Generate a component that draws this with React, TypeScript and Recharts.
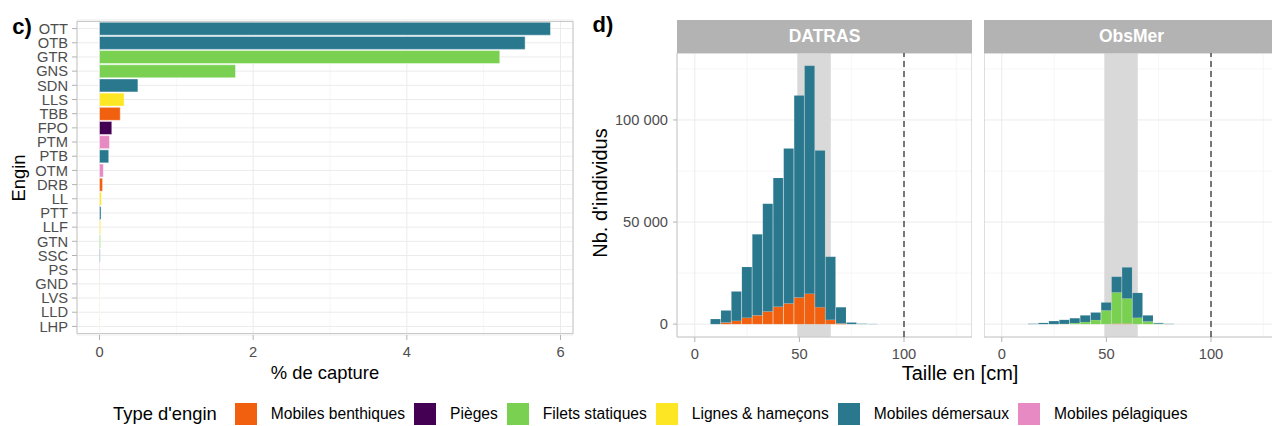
import React from 'react';
import {
  BarChart,
  Bar,
  XAxis,
  YAxis,
  CartesianGrid,
  ReferenceLine,
  ReferenceArea,
  Cell,
} from 'recharts';

// c) share of catch by gear
const engins = ['OTT', 'OTB', 'GTR', 'GNS', 'SDN', 'LLS', 'TBB', 'FPO', 'PTM', 'PTB', 'OTM', 'DRB', 'LL', 'PTT', 'LLF', 'GTN', 'SSC', 'PS', 'GND', 'LVS', 'LLD', 'LHP'];
const captures = [5.87, 5.54, 5.21, 1.77, 0.5, 0.32, 0.27, 0.16, 0.13, 0.12, 0.05, 0.04, 0.025, 0.02, 0.015, 0.012, 0.008, 0.005, 0.004, 0.003, 0.002, 0.002];
const enginTypes = ['dem', 'dem', 'stat', 'stat', 'dem', 'lig', 'ben', 'pie', 'pel', 'dem', 'pel', 'ben', 'lig', 'dem', 'lig', 'stat', 'dem', 'pel', 'stat', 'lig', 'lig', 'lig'];
const captureTicks = [0, 2, 4, 6];
const captureMinor = [1, 3, 5];

// d) length distributions (5 cm bins)
const tailles = [10, 15, 20, 25, 30, 35, 40, 45, 50, 55, 60, 65, 70, 75, 80, 85];
const datrasBenthiques = [0, 800, 1600, 3100, 4300, 6200, 8500, 10100, 13000, 14900, 8300, 2100, 300, 0, 0, 0];
const datrasDemersaux = [2500, 5900, 14400, 24900, 39700, 52800, 63100, 75900, 99000, 111600, 76700, 30900, 8000, 800, 200, 100];
const obsmerBenthiques = [0, 0, 0, 0, 0, 0, 0, 0, 0, 250, 250, 0, 0, 0, 0, 0];
const obsmerStatiques = [0, 0, 0, 0, 100, 500, 1000, 2000, 6700, 15300, 12300, 3100, 1300, 200, 0, 0];
const obsmerDemersaux = [0, 200, 600, 1500, 2000, 2400, 3300, 3700, 3900, 7650, 15250, 12200, 3000, 400, 150, 0];
const tailleTicks = [0, 50, 100];
const tailleMinor = [25, 75, 125];
const effectifTicks = [0, 50000, 100000];
const effectifMinor = [25000, 75000, 125000];

const typeKeys = ['ben', 'pie', 'stat', 'lig', 'dem', 'pel'];
const typeLabels = ['Mobiles benthiques', 'Pièges', 'Filets statiques', 'Lignes & hameçons', 'Mobiles démersaux', 'Mobiles pélagiques'];

const COLORS: Record<string, string> = {
  ben: '#F1600F',
  pie: '#440154',
  stat: '#7AD151',
  lig: '#FDE725',
  dem: '#2A788E',
  pel: '#E78AC3',
};

const FONT = '"Liberation Sans", Arial, Helvetica, sans-serif';
const GRID = '#EBEBEB';
const MINOR = '#F4F4F4';
const BORDER = '#C8C8C8';
const TICK = { fontSize: 14.7, fill: '#4D4D4D', fontFamily: FONT };

const captureData = engins.map((e, i) => ({ engin: e, capture: captures[i], type: enginTypes[i] }));

const datrasData = tailles.map((t, i) => ({
  taille: t,
  ben: datrasBenthiques[i],
  stat: 0,
  dem: datrasDemersaux[i],
}));
const obsmerData = tailles.map((t, i) => ({
  taille: t,
  ben: obsmerBenthiques[i],
  stat: obsmerStatiques[i],
  dem: obsmerDemersaux[i],
}));

const fmtMilliers = (v: number) => String(v).replace(/\B(?=(\d{3})+(?!\d))/g, ' ');

const captureDomain: [number, number] = [-0.293, 6.163];
const tailleDomain: [number, number] = [-8.5, 132.5];
const effectifDomain: [number, number] = [-6300, 132800];

const CaptureChart = () => (
  <BarChart
    width={575}
    height={380}
    data={captureData}
    layout="vertical"
    margin={{ top: 20, right: 2, bottom: 15, left: 0 }}
    barCategoryGap="5%"
  >
    <CartesianGrid stroke={MINOR} strokeWidth={0.8} horizontal={false} verticalValues={captureMinor} />
    <CartesianGrid stroke={GRID} strokeWidth={1} />
    <XAxis
      type="number"
      dataKey="capture"
      domain={captureDomain}
      ticks={captureTicks}
      allowDataOverflow
      axisLine={false}
      tickLine={{ stroke: '#B3B3B3' }}
      tickSize={5}
      tickMargin={7}
      tick={TICK}
    />
    <YAxis
      type="category"
      dataKey="engin"
      width={77}
      interval={0}
      padding={{ top: 1.5, bottom: 1.5 }}
      axisLine={false}
      tickLine={{ stroke: '#B3B3B3' }}
      tickSize={5}
      tickMargin={4}
      tick={TICK}
    />
    <Bar dataKey="capture" isAnimationActive={false} stroke="#ffffff" strokeOpacity={0.55} strokeWidth={0.8}>
      {captureData.map((d) => (
        <Cell key={d.engin} fill={COLORS[d.type]} />
      ))}
    </Bar>
    <ReferenceArea x1={captureDomain[0]} x2={captureDomain[1]} fill="none" stroke={BORDER} strokeWidth={1} />
  </BarChart>
);

const HistPanel = ({ data, showY, width }: { data: any[]; showY: boolean; width: number }) => (
  <BarChart
    width={width}
    height={380}
    data={data}
    margin={{ top: 53, right: 0, bottom: 13, left: 0 }}
    barCategoryGap={0}
    barGap={0}
  >
    <CartesianGrid stroke={MINOR} strokeWidth={0.8} verticalValues={tailleMinor} horizontalValues={effectifMinor} />
    <CartesianGrid stroke={GRID} strokeWidth={1} />
    <ReferenceArea x1={49} x2={65} fill="#D9D9D9" fillOpacity={1} stroke="none" />
    <XAxis
      type="number"
      dataKey="taille"
      domain={tailleDomain}
      ticks={tailleTicks}
      allowDataOverflow
      axisLine={false}
      tickLine={{ stroke: '#B3B3B3' }}
      tickSize={5}
      tickMargin={7}
      tick={TICK}
    />
    <YAxis
      type="number"
      domain={effectifDomain}
      ticks={effectifTicks}
      allowDataOverflow
      hide={!showY}
      width={87}
      axisLine={false}
      tickLine={{ stroke: '#B3B3B3' }}
      tickSize={4}
      tickMargin={5}
      tick={TICK}
      tickFormatter={fmtMilliers}
    />
    <Bar dataKey="ben" stackId="s" fill={COLORS.ben} stroke="#ffffff" strokeOpacity={0.15} strokeWidth={0.5} isAnimationActive={false} />
    <Bar dataKey="stat" stackId="s" fill={COLORS.stat} stroke="#ffffff" strokeOpacity={0.15} strokeWidth={0.5} isAnimationActive={false} />
    <Bar dataKey="dem" stackId="s" fill={COLORS.dem} stroke="#ffffff" strokeOpacity={0.15} strokeWidth={0.5} isAnimationActive={false} />
    <ReferenceLine x={100} stroke="#333333" strokeWidth={1.3} strokeDasharray="6 4" />
    <ReferenceArea x1={tailleDomain[0]} x2={tailleDomain[1]} fill="none" stroke={BORDER} strokeWidth={1} />
  </BarChart>
);

const Strip = ({ label, left, width }: { label: string; left: number; width: number }) => (
  <div
    style={{
      position: 'absolute',
      left,
      top: 20,
      width,
      height: 33,
      background: '#B3B3B3',
      color: '#ffffff',
      fontWeight: 'bold',
      fontSize: 17.5,
      display: 'flex',
      alignItems: 'center',
      justifyContent: 'center',
    }}
  >
    {label}
  </div>
);

const Text = ({ x, y, children, size = 18.4, bold = false, rotate = false }: any) => (
  <div
    style={{
      position: 'absolute',
      left: x,
      top: y,
      transform: `translate(-50%, -50%)${rotate ? ' rotate(-90deg)' : ''}`,
      fontSize: size,
      fontWeight: bold ? 'bold' : 'normal',
      whiteSpace: 'nowrap',
      color: '#000',
    }}
  >
    {children}
  </div>
);

const Legend = () => (
  <div
    style={{
      position: 'absolute',
      left: 113,
      top: 402,
      height: 24,
      display: 'flex',
      alignItems: 'center',
    }}
  >
    <span style={{ fontSize: 18.4, marginRight: 18 }}>Type d'engin</span>
    {typeKeys.map((k, i) => (
      <React.Fragment key={k}>
        <span style={{ display: 'inline-block', width: 22, height: 22, background: COLORS[k], marginRight: 14 }} />
        <span style={{ fontSize: 15.6, marginRight: 9 }}>{typeLabels[i]}</span>
      </React.Fragment>
    ))}
  </div>
);

export default function App() {
  return (
    <div
      style={{
        position: 'absolute',
        left: 0,
        top: 0,
        width: 1272,
        height: 426,
        overflow: 'hidden',
        background: '#ffffff',
        fontFamily: FONT,
      }}
    >
      <div style={{ position: 'absolute', left: 0, top: 0 }}>
        <CaptureChart />
      </div>
      <div style={{ position: 'absolute', left: 590, top: 0 }}>
        <HistPanel data={datrasData} showY width={382} />
      </div>
      <div style={{ position: 'absolute', left: 984, top: 0 }}>
        <HistPanel data={obsmerData} showY={false} width={295} />
      </div>
      <Strip label="DATRAS" left={677} width={295} />
      <Strip label="ObsMer" left={984} width={295} />

      <Text x={22} y={27} size={22} bold>c)</Text>
      <Text x={603} y={25} size={22} bold>d)</Text>
      <Text x={19} y={178} rotate>Engin</Text>
      <Text x={325} y={373}>% de capture</Text>
      <Text x={600} y={193} size={20} rotate>Nb. d'individus</Text>
      <Text x={960} y={373} size={20}>Taille en [cm]</Text>
      <Legend />
    </div>
  );
}
